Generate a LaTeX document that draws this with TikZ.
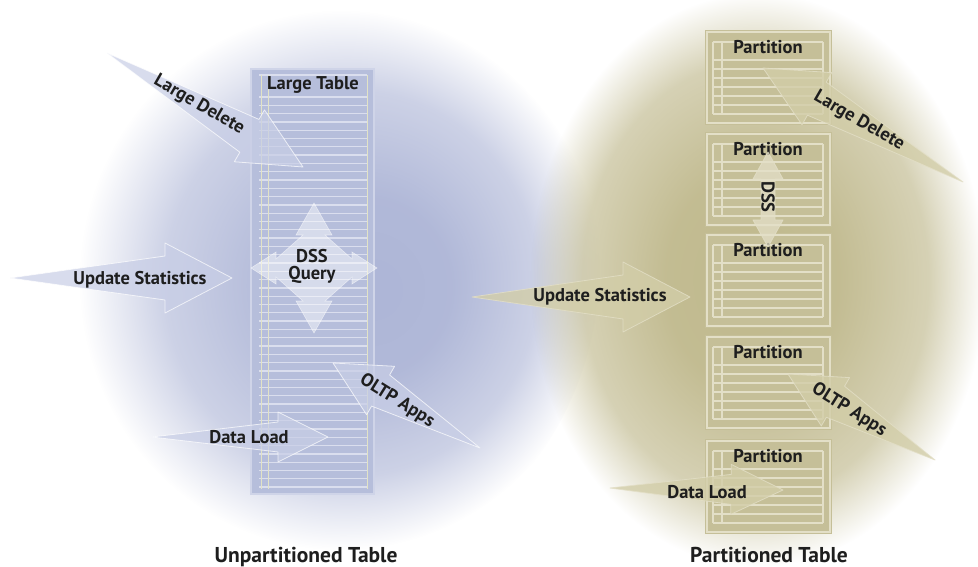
\documentclass[tikz,border=0pt]{standalone}
\usepackage{fontspec}
\setmainfont{PT Sans}
\usetikzlibrary{calc,fadings}

\definecolor{blueCore}{HTML}{AEB6D7}
\definecolor{oliveCore}{HTML}{C0B98D}
\definecolor{tableBlue}{HTML}{B6BEDB}
\definecolor{tableLine}{HTML}{DADEEE}
\definecolor{tableYellow}{HTML}{E2E3C6}
\definecolor{partFill}{HTML}{C5BF98}
\definecolor{partLine}{HTML}{E3DFC7}
\definecolor{arrowBlue}{HTML}{C8CEE6}
\definecolor{arrowOlive}{HTML}{D2CDA8}
\definecolor{labelInk}{HTML}{1E1E1E}

% opacity masks for the soft glows behind the two tables
\pgfdeclareradialshading{blueMask}{\pgfpoint{7bp}{-2bp}}{color(0bp)=(white); color(7bp)=(white!96!black); color(15bp)=(white!62!black); color(21bp)=(black); color(50bp)=(black)}
\pgfdeclarefading{blueFade}{\pgfuseshading{blueMask}}
\pgfdeclareradialshading{oliveMask}{\pgfpoint{-2bp}{0bp}}{color(0bp)=(white); color(8bp)=(white!95!black); color(16bp)=(white!65!black); color(21bp)=(black); color(50bp)=(black)}
\pgfdeclarefading{oliveFade}{\pgfuseshading{oliveMask}}

% tapered arrow: style, tail, tip, head length, body half width, head half width
\newcommand\taperarrow[6]{%
  \path[#1] (#2)
    -- ($(#3)!#4!(#2)!#5!90:(#2)$)
    -- ($(#3)!#4!(#2)!#6!90:(#2)$)
    -- (#3)
    -- ($(#3)!#4!(#2)!#6!-90:(#2)$)
    -- ($(#3)!#4!(#2)!#5!-90:(#2)$)
    -- cycle;}

\begin{document}
\begin{tikzpicture}[x=1pt,y=-1pt,
  lbl/.style={font=\fontsize{18.5}{20}\selectfont\bfseries, text=labelInk, inner sep=0pt},
  ttl/.style={font=\fontsize{21.5}{23}\selectfont\bfseries, text=labelInk, inner sep=0pt, anchor=base},
  blueArrow/.style={fill=arrowBlue, fill opacity=0.7, draw=white, draw opacity=0.7, line width=0.8pt, line join=round},
  oliveArrow/.style={fill=arrowOlive, fill opacity=0.8, draw=partLine, draw opacity=0.8, line width=0.8pt, line join=round},
  starShape/.style={fill=white, fill opacity=0.45, draw=white, draw opacity=0.5, line width=0.6pt},
  tableRow/.style={tableLine, line width=1.3pt},
  partRow/.style={partLine, line width=1.2pt},
]
\fill[white] (0,0) rectangle (978,567);
\useasboundingbox (0,0) rectangle (978,567);

% background glows
\fill[blueCore, path fading=blueFade] (290,265) ellipse [x radius=310, y radius=320];
\fill[oliveCore, path fading=oliveFade] (770,280) ellipse [x radius=270, y radius=340];

% ---- unpartitioned table ----
\fill[tableBlue] (250,68) rectangle (375,495);
\draw[tableLine!70!tableBlue, line width=1.5pt] (251,69) rectangle (374,494);
\draw[tableRow] (259,75) -- (367,75);
\foreach \k in {0,...,47}
  \draw[tableRow] (259,97+8.3*\k) -- (367,97+8.3*\k);
\foreach \xx in {261,268,367}
  \draw[tableYellow, line width=1pt] (\xx,75) -- (\xx,489);
\node[lbl] (bigTitle) at (313,85) {Large Table};

% ---- partitioned table ----
\foreach \t [count=\n] in {30,132,233,335,439} {
  \fill[partFill] (705,\t) rectangle (832,\t+95);
  \draw[partLine, line width=1.2pt] (707,\t+2) rectangle (830,\t+93);
  \draw[partRow] (713,\t+12) -- (823,\t+12);
  \foreach \k in {0,...,6}
    \draw[partRow] (713,\t+30+9*\k) -- (823,\t+30+9*\k);
  \foreach \xx in {713,722,823}
    \draw[partRow] (\xx,\t+12) -- (\xx,\t+84);
  \node[lbl] (part\n) at (768,\t+17) {Partition};
}

% ---- arrows, left side ----
\coordinate (ldTailL) at (107,53);   \coordinate (ldTipL) at (303,167);
\coordinate (usTailL) at (10,278);   \coordinate (usTipL) at (232,278);
\coordinate (dlTailL) at (152,437);  \coordinate (dlTipL) at (328,437);
\coordinate (olTailL) at (480,448);  \coordinate (olTipL) at (333,363);
\taperarrow{blueArrow}{ldTailL}{ldTipL}{62pt}{19pt}{30pt}
\taperarrow{blueArrow}{usTailL}{usTipL}{67pt}{22pt}{35pt}
\taperarrow{blueArrow}{dlTailL}{dlTipL}{50pt}{15pt}{25pt}
\taperarrow{blueArrow}{olTailL}{olTipL}{55pt}{18pt}{28pt}

% four-way DSS query arrow
\path[starShape, shift={(314,268)}]
  (0,-65) -- (18,-33) -- (11,-33) -- (38,-9) -- (38,-16) -- (63,0)
  -- (38,16) -- (38,9) -- (11,33) -- (18,33) -- (0,65)
  -- (-18,33) -- (-11,33) -- (-38,9) -- (-38,16) -- (-63,0)
  -- (-38,-16) -- (-38,-9) -- (-11,-33) -- (-18,-33) -- cycle;

% ---- arrows, right side ----
\coordinate (ldTailR) at (963,182);  \coordinate (ldTipR) at (763,68);
\coordinate (usTailR) at (472,297);  \coordinate (usTipR) at (690,297);
\coordinate (dlTailR) at (610,488);  \coordinate (dlTipR) at (783,490);
\coordinate (olTailR) at (935,460);  \coordinate (olTipR) at (788,374);
\taperarrow{oliveArrow}{ldTailR}{ldTipR}{62pt}{19pt}{30pt}
\taperarrow{oliveArrow}{usTailR}{usTipR}{67pt}{22pt}{35pt}
\taperarrow{oliveArrow}{dlTailR}{dlTipR}{52pt}{15pt}{25pt}
\taperarrow{oliveArrow}{olTailR}{olTipR}{55pt}{18pt}{28pt}

% vertical DSS double arrow
\path[oliveArrow, fill=partLine, fill opacity=0.75, shift={(768,200)}]
  (0,-48) -- (15,-21) -- (7,-21) -- (7,20) -- (15,20) -- (0,47)
  -- (-15,20) -- (-7,20) -- (-7,-21) -- (-15,-21) -- cycle;

% ---- labels ----
\node[lbl, rotate=-30] (ldLabelL) at (199,105) {Large Delete};
\node[lbl] (usLabelL) at (140,280) {Update Statistics};
\node[lbl, align=center] (dssLabelL) at (312,266) {DSS\\[-3pt]Query};
\node[lbl] (dlLabelL) at (249,437) {Data Load};
\node[lbl, rotate=-32] (olLabelL) at (397,401) {OLTP Apps};

\node[lbl, rotate=-30] (ldLabelR) at (859,121) {Large Delete};
\node[lbl, rotate=-90] (dssLabelR) at (768,197) {DSS};
\node[lbl] (usLabelR) at (600,297) {Update Statistics};
\node[lbl, rotate=-32] (olLabelR) at (849,410) {OLTP Apps};
\node[lbl] (dlLabelR) at (707,492) {Data Load};

\node[ttl] (leftTitle) at (306,562) {Unpartitioned Table};
\node[ttl] (rightTitle) at (769,562) {Partitioned Table};
\end{tikzpicture}
\end{document}
